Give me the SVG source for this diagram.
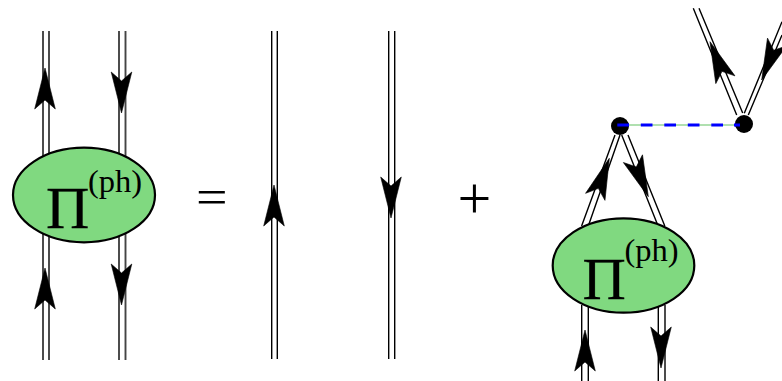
<svg xmlns="http://www.w3.org/2000/svg" width="782" height="381" viewBox="0 0 782 381">
<style>
.l{stroke:#000;stroke-width:1.4;fill:none}
.g{stroke:#444;stroke-width:1.9;fill:none}
.e{fill:#80D980;stroke:#000;stroke-width:2.2}
text{font-family:"Liberation Serif","Times New Roman",serif;fill:#000}
.pi{font-size:60px;stroke:#000;stroke-width:0.3}
.ph{font-size:32.500px}
.eq{font-size:56px}
.pl{font-size:60px}
</style>
<defs>
<polygon id="a" points="0,0 10.300,41 0,32 -10.300,41" fill="#000" stroke="#000" stroke-width="0.6"/>
</defs>
<rect width="782" height="381" fill="#fff"/>
<g id="connectors">
<path class="g" d="M43 31V360M49 31V360M119 31V360M125.500 31V360"/>
<path class="l" d="M271.700 31V359M277.300 31V359M388.700 31V359M394.700 31V359"/>
<path class="l" d="M693.300 8.300L736.700 115M699 8.300L742.700 113M782 21.700L744.300 113.300M782 35L748.300 115"/>
<path class="l" d="M615 135L581.600 226M620 135L588.300 226M621.700 135L658.100 226M628 135L664.800 226"/>
<path class="l" d="M581.700 305V381M588.300 305V381M658.300 305V381M665 305V381"/>
<path d="M619.500 125H744" stroke="#B0E0B0" stroke-width="2" fill="none"/>
<path d="M617.300 125H740" stroke="#00f" stroke-width="3" stroke-dasharray="11.700 11.800" fill="none"/>
<use href="#a" x="45" y="68"/>
<use href="#a" x="45" y="268"/>
<use href="#a" x="274" y="185"/>
<use href="#a" x="585" y="330"/>
<use href="#a" transform="translate(121.500 113) rotate(180)"/>
<use href="#a" transform="translate(121.500 305) rotate(180)"/>
<use href="#a" transform="translate(391 218) rotate(180)"/>
<use href="#a" transform="translate(661 368) rotate(180)"/>
<use href="#a" transform="translate(710 41.700) rotate(-22)"/>
<use href="#a" transform="translate(761.700 80) rotate(202)"/>
<use href="#a" transform="translate(609.300 158.300) rotate(20)"/>
<use href="#a" transform="translate(648.300 196.700) rotate(158)"/>
</g>
<g id="node-blob-left">
<ellipse class="e" cx="84" cy="195" rx="71" ry="47.300"/>
<text class="pi" x="46" y="228">Π</text>
<text class="ph" x="88" y="191.500">(ph)</text>
</g>
<g id="node-blob-right">
<ellipse class="e" cx="623.500" cy="265.500" rx="70.800" ry="47.200"/>
<text class="pi" x="582.500" y="299">Π</text>
<text class="ph" x="624.500" y="261">(ph)</text>
</g>
<g id="vertex-a"><circle cx="620" cy="126" r="9" fill="#000"/><path d="M617.300 125H629" stroke="#00f" stroke-width="3"/></g>
<g id="vertex-b"><circle cx="744" cy="124" r="9" fill="#000"/><path d="M734 125H740" stroke="#00f" stroke-width="3"/></g>
<g id="op-equals"><text class="eq" transform="translate(196 214) scale(1 0.89)">=</text></g>
<g id="op-plus"><text class="pl" x="457.600" y="218.300">+</text></g>
</svg>
